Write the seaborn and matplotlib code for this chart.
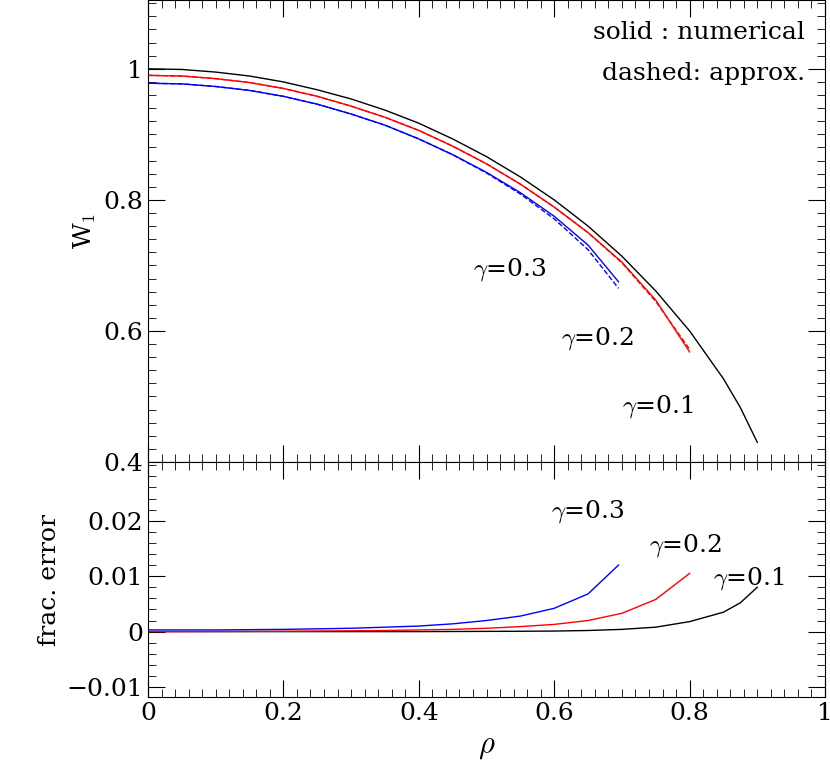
import numpy as np
import pandas as pd
import matplotlib.pyplot as plt
import seaborn as sns
from matplotlib.ticker import MultipleLocator

plt.rcParams['font.family'] = 'DejaVu Serif'
plt.rcParams['mathtext.fontset'] = 'cm'

# W1 curves
rho_01 = [0, .05, .1, .15, .2, .25, .3, .35, .4, .45, .5, .55, .6, .65, .7, .75, .8, .85, .875, .9]
w_01 = [1.0, .999, .995, .989, .98, .968, .954, .937, .917, .893, .866, .835, .80, .760, .714, .661, .60, .527, .483, .43]
rho_02 = [0, .05, .1, .15, .2, .25, .3, .35, .4, .45, .5, .55, .6, .65, .7, .75, .8]
w_02 = [.99, .989, .985, .979, .970, .958, .943, .926, .906, .882, .855, .824, .789, .750, .705, .647, .568]
w_02_dash = [.99, .989, .985, .979, .970, .958, .943, .926, .906, .882, .855, .824, .789, .750, .704, .645, .572]
rho_03 = [0, .05, .1, .15, .2, .25, .3, .35, .4, .45, .5, .55, .6, .65, .695]
w_03 = [.978, .977, .973, .967, .958, .946, .931, .914, .893, .869, .842, .811, .775, .731, .675]
w_03_dash = [.978, .977, .973, .967, .958, .946, .931, .914, .893, .869, .841, .809, .771, .724, .665]

# fractional error
err_01 = [0, 0, 0, 0, 0, 0, 0, 0, 0, .00002, .00004, .00006, .0001, .0002, .0004, .0008, .0018, .0035, .0052, .008]
err_02 = [0, 0, .00002, .00004, .00006, .0001, .00015, .0002, .0003, .0004, .0006, .0009, .0013, .002, .0033, .0058, .0105]
err_03 = [.0003, .0003, .0003, .00035, .0004, .0005, .0006, .0008, .001, .0014, .002, .0028, .0042, .0068, .012]

fig = plt.figure(figsize=(8.3, 7.74), dpi=100)
ax1 = fig.add_axes([148/830, 1-462/774, 677/830, 462/774])
ax2 = fig.add_axes([148/830, 1-697/774, 677/830, 235/774], sharex=ax1)

sns.lineplot(x=rho_01, y=w_01, color='black', lw=1, ax=ax1)
sns.lineplot(x=rho_02, y=w_02, color='red', lw=1, ax=ax1)
sns.lineplot(x=rho_02, y=w_02_dash, color='red', lw=1, ls='--', ax=ax1)
sns.lineplot(x=rho_03, y=w_03, color='blue', lw=1, ax=ax1)
sns.lineplot(x=rho_03, y=w_03_dash, color='blue', lw=1, ls='--', ax=ax1)

sns.lineplot(x=rho_01, y=err_01, color='black', lw=1, ax=ax2)
sns.lineplot(x=rho_02, y=err_02, color='red', lw=1, ax=ax2)
sns.lineplot(x=rho_03, y=err_03, color='blue', lw=1, ax=ax2)

ax1.set_xlim(0, 1)
ax1.set_ylim(0.4, 1.105)
ax2.set_ylim(-0.0118, 0.0306)

fs = 18
for ax in (ax1, ax2):
    ax.xaxis.set_major_locator(MultipleLocator(0.2))
    ax.xaxis.set_minor_locator(MultipleLocator(0.02))
    ax.tick_params(which='both', direction='in', top=True, right=True, labelsize=fs)
    ax.tick_params(which='major', length=12)
    ax.tick_params(which='minor', length=6)
ax1.yaxis.set_major_locator(MultipleLocator(0.2))
ax1.yaxis.set_minor_locator(MultipleLocator(0.02))
ax1.set_yticks([0.4, 0.6, 0.8, 1.0], ['0.4', '0.6', '0.8', '1'])
ax2.yaxis.set_major_locator(MultipleLocator(0.01))
ax2.yaxis.set_minor_locator(MultipleLocator(0.002))
ax2.set_yticks([-0.01, 0, 0.01, 0.02], ['\u22120.01', '0', '0.01', '0.02'])
ax2.set_xticks([0, 0.2, 0.4, 0.6, 0.8, 1.0], ['0', '0.2', '0.4', '0.6', '0.8', '1'])
ax1.tick_params(labelbottom=False)

ax1.set_ylabel(r'W$_1$', fontsize=fs)
ax2.set_ylabel('frac. error', fontsize=fs)
ax2.set_xlabel(r'$\rho$', fontsize=22)

ax1.text(0.97, 0.93, 'solid : numerical', transform=ax1.transAxes, ha='right', va='center', fontsize=fs)
ax1.text(0.97, 0.84, 'dashed: approx.', transform=ax1.transAxes, ha='right', va='center', fontsize=fs)
ax1.text(0.48, 0.685, r'$\gamma$=0.3', fontsize=fs)
ax1.text(0.61, 0.58, r'$\gamma$=0.2', fontsize=fs)
ax1.text(0.70, 0.475, r'$\gamma$=0.1', fontsize=fs)
ax2.text(0.595, 0.0205, r'$\gamma$=0.3', fontsize=fs)
ax2.text(0.74, 0.0145, r'$\gamma$=0.2', fontsize=fs)
ax2.text(0.835, 0.0085, r'$\gamma$=0.1', fontsize=fs)

fig.savefig('out.png', dpi=100)
